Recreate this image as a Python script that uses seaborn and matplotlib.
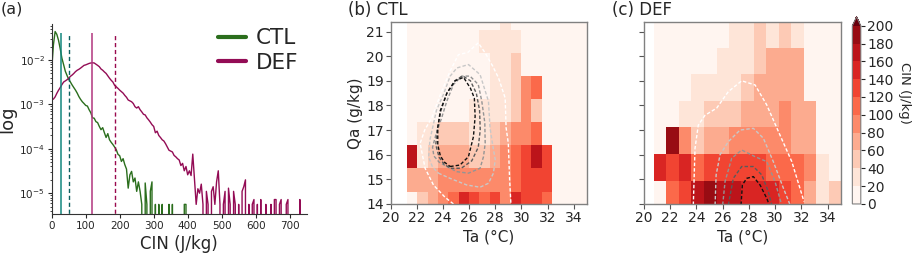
import numpy as np
import pandas as pd
import matplotlib
matplotlib.use("Agg")
import matplotlib.pyplot as plt
from matplotlib.colors import ListedColormap
from matplotlib.lines import Line2D
import seaborn as sns

sns.set_style("ticks")
plt.rcParams['font.family'] = ['DejaVu Sans']

# ---------------- Panel (a): CIN PDFs ----------------
cin_step = 5
ctl_pdf = [
    6.3e-3, 2.2e-2, 4.4e-2, 3.8e-2, 2.8e-2, 1.8e-2, 1.1e-2, 7.9e-3, 5.6e-3, 4.5e-3,
    3.7e-3, 3.2e-3, 2.75e-3, 2.4e-3, 2.1e-3, 1.8e-3, 1.5e-3, 1.3e-3, 1.15e-3, 1.05e-3,
    9.5e-4, 9.2e-4, 7.6e-4, 6.5e-4, 5.0e-4, 4.9e-4, 4.1e-4, 3.9e-4, 3.2e-4, 2.7e-4,
    3.0e-4, 2.3e-4, 1.8e-4, 2.2e-4, 1.6e-4, 1.4e-4, 1.25e-4, 1.1e-4, 9.5e-5, 7.5e-5,
    7.0e-5, 5.2e-5, 6.0e-5, 4.4e-5, 3.5e-5, 1.3e-5, 2.6e-5, 3.1e-5, 1.8e-5, 2.2e-5,
    1.1e-5, 1.8e-5, 1.1e-5, 5.6e-6, 0, 1.7e-5, 5.6e-6, 0, 1.1e-5, 1.8e-5,
    0, 5.6e-6, 0, 5.6e-6, 0, 5.6e-6, 0, 0, 0, 5.6e-6,
    0, 5.6e-6, 0, 0, 0, 0, 0, 0, 5.6e-6, 5.6e-6,
    0,
]
def_pdf = [
    1.29e-3, 1.32e-3, 1.48e-3, 1.78e-3, 2.09e-3, 2.4e-3, 2.8e-3, 3.2e-3, 3.4e-3, 3.6e-3,
    3.9e-3, 4.3e-3, 4.6e-3, 5.0e-3, 5.5e-3, 5.9e-3, 6.2e-3, 6.6e-3, 7.1e-3, 7.6e-3,
    7.8e-3, 8.1e-3, 8.4e-3, 8.6e-3, 8.7e-3, 8.6e-3, 8.1e-3, 7.6e-3, 7.1e-3, 6.3e-3,
    5.9e-3, 5.4e-3, 5.0e-3, 4.4e-3, 3.9e-3, 3.5e-3, 3.2e-3, 2.7e-3, 2.5e-3, 2.3e-3,
    2.1e-3, 1.95e-3, 1.8e-3, 1.6e-3, 1.45e-3, 1.26e-3, 1.2e-3, 1.15e-3, 1.05e-3, 8.9e-4,
    8.3e-4, 8.9e-4, 7.6e-4, 6.8e-4, 6.0e-4, 5.8e-4, 5.0e-4, 4.5e-4, 4.0e-4, 3.5e-4,
    3.2e-4, 2.3e-4, 2.5e-4, 2.0e-4, 1.8e-4, 1.6e-4, 1.5e-4, 1.3e-4, 1.1e-4, 9.3e-5,
    8.9e-5, 8.5e-5, 7.1e-5, 6.6e-5, 6.0e-5, 5.6e-5, 4.2e-5, 4.7e-5, 3.2e-5, 4.0e-5,
    2.6e-5, 3.2e-5, 2.5e-5, 7.6e-5, 2.0e-5, 5.6e-6, 1.26e-5, 1.0e-5, 1.6e-5, 5.6e-6,
    0, 1.1e-5, 5.6e-6, 0, 1.1e-5, 1.4e-5, 5.6e-6, 1.8e-5, 3.2e-5, 5.6e-6,
    0, 5.6e-6, 1.1e-5, 0, 1.3e-5, 5.6e-6, 0, 1.1e-5, 5.6e-6, 0,
    5.6e-6, 0, 1.1e-5, 1.4e-5, 2.0e-5, 0, 5.6e-6, 0, 5.6e-6, 7.2e-6,
    0, 5.6e-6, 0, 7.2e-6, 0, 0, 5.6e-6, 0, 0, 5.6e-6,
    0, 7.2e-6, 7.2e-6, 0, 5.6e-6, 7.2e-6, 0, 0, 5.6e-6, 7.2e-6,
    0, 0, 0, 0, 0, 0, 7.2e-6, 0,
]
ctl_cin = np.arange(len(ctl_pdf)) * cin_step
def_cin = np.arange(len(def_pdf)) * cin_step

ctl_mean, ctl_dash = 28, 50
def_mean, def_dash = 119, 185

# ---------------- Panels (b), (c): CIN binned by Ta / Qa ----------------
ctl_ta_edges = [21.23, 22.02, 22.82, 23.61, 24.41, 25.20, 26.00, 26.79, 27.58, 28.38,
                29.17, 29.97, 30.76, 31.56, 32.35, 33.14, 33.94, 34.73, 35.53]
ctl_qa_edges = [13.56, 14.50, 15.44, 16.38, 17.32, 18.26, 19.20, 20.14, 21.08, 22.02]
ctl_cin_grid = [  # rows: Qa bins (bottom -> top), cols: Ta bins
    [8, 50, 70, 90, 110, 145, 125, 118, 130, 90, 145, 130, 130, 118, 5, 5, 5, 5],
    [70, 70, 70, 90, 90, 90, 90, 90, 90, 90, 118, 135, 135, 128, 5, 5, 5, 5],
    [170, 30, 42, 70, 70, 70, 58, 58, 70, 80, 105, 130, 170, 135, 5, 5, 5, 5],
    [8, 28, 30, 45, 45, 45, 38, 35, 48, 62, 82, 92, 115, 5, 5, 5, 5, 5],
    [5, 10, 10, 12, 18, 18, 22, 22, 28, 38, 58, 88, 58, 5, 5, 5, 5, 5],
    [5, 5, 5, 5, 5, 12, 18, 18, 25, 30, 58, 88, 115, 5, 5, 5, 5, 5],
    [5, 5, 5, 5, 5, 5, 12, 18, 22, 25, 55, 5, 5, 5, 5, 5, 5, 5],
    [5, 5, 5, 5, 5, 5, 15, 20, 25, 25, 30, 5, 5, 5, 5, 5, 5, 5],
    [5, 5, 5, 5, 5, 5, 5, 5, 15, 22, 5, 5, 5, 5, 5, 5, 5, 5],
]

def_ta_edges = [20.76, 21.71, 22.67, 23.62, 24.57, 25.53, 26.48, 27.43, 28.38, 29.34,
                30.29, 31.24, 32.20, 33.15, 34.10, 35.06]
def_qa_edges = [13.87, 14.95, 16.03, 17.11, 18.19, 19.27, 20.35, 21.43]
def_cin_grid = [
    [5, 115, 130, 165, 188, 170, 165, 150, 150, 145, 130, 110, 65, 25, 42],
    [145, 125, 155, 115, 130, 120, 125, 125, 120, 115, 115, 105, 90, 22, 10],
    [5, 188, 82, 58, 65, 70, 80, 85, 90, 90, 90, 70, 70, 10, 10],
    [5, 8, 30, 30, 45, 48, 55, 65, 68, 70, 88, 75, 65, 8, 8],
    [5, 5, 5, 25, 30, 35, 30, 40, 65, 65, 78, 70, 8, 5, 5],
    [5, 5, 5, 5, 5, 25, 30, 25, 50, 65, 70, 65, 8, 5, 5],
    [5, 5, 5, 5, 5, 15, 20, 25, 40, 35, 40, 30, 5, 5, 5],
]

# density contours (Ta, Qa) traced per level, outer -> inner
ctl_contours = [
    ([24.8, 24.16, 23.27, 22.63, 22.25, 22.6, 23.14, 23.8, 24.55, 25.18, 25.9, 26.7,
      27.23, 27.8, 28.25, 28.76, 28.83, 29.0, 29.1, 29.2],
     [14.0, 14.27, 14.77, 15.45, 16.46, 17.0, 17.5, 18.44, 19.4, 20.06, 20.15, 20.54,
      20.13, 19.6, 19.12, 18.3, 17.1, 16.46, 15.0, 14.0]),
    ([23.65, 24.54, 25.82, 26.84, 27.48, 27.86, 28.0, 27.8, 27.6, 27.48, 26.84, 25.95,
      25.06, 24.55, 24.03, 23.5, 23.0, 22.9, 23.2, 23.65],
     [15.25, 15.04, 14.77, 14.68, 14.84, 15.25, 15.8, 16.4, 17.09, 18.17, 19.25, 19.66,
      19.52, 19.19, 18.44, 17.8, 16.6, 15.9, 15.5, 15.25]),
    ([24.29, 25.06, 25.95, 26.84, 27.1, 27.23, 27.2, 26.97, 26.7, 26.07, 25.44, 24.8,
      24.29, 23.9, 23.45, 23.2, 23.3, 23.7, 24.29],
     [15.52, 15.31, 15.25, 15.45, 15.92, 16.46, 17.3, 18.17, 18.85, 19.19, 19.19, 18.85,
      18.17, 17.5, 16.8, 16.3, 15.95, 15.7, 15.52]),
    ([24.6, 25.4, 26.2, 26.7, 26.85, 26.8, 26.55, 26.1, 25.5, 24.9, 24.3, 23.85, 23.55,
      23.45, 23.7, 24.1, 24.6],
     [15.45, 15.45, 15.75, 16.3, 17.0, 17.8, 18.5, 19.0, 19.2, 19.0, 18.5, 17.8, 17.0,
      16.4, 15.9, 15.6, 15.45]),
    ([24.55, 25.3, 25.95, 26.33, 26.46, 26.4, 26.1, 25.57, 24.93, 24.3, 23.8, 23.6, 23.6,
      23.8, 24.1, 24.55],
     [15.52, 15.58, 15.92, 16.73, 17.55, 18.3, 18.7, 19.14, 19.0, 18.5, 17.8, 17.1, 16.4,
      15.95, 15.7, 15.52]),
]
def_contours = [
    ([23.76, 23.89, 24.14, 24.65, 25.54, 26.43, 27.45, 28.47, 29.36, 30.25, 31.27, 32.2],
     [13.96, 16.26, 17.2, 17.6, 17.89, 18.56, 19.0, 18.83, 18.02, 16.94, 15.72, 14.1]),
    ([25.42, 25.5, 25.8, 26.43, 27.32, 28.34, 29.1, 29.86, 30.63, 31.14],
     [13.96, 15.18, 16.0, 16.53, 17.0, 17.07, 16.67, 15.72, 14.64, 13.96]),
    ([26.0, 26.18, 26.69, 27.45, 28.47, 29.36, 29.99, 30.5],
     [13.96, 14.91, 15.86, 16.19, 15.92, 15.72, 14.91, 13.96]),
    ([26.43, 26.81, 27.45, 28.34, 28.98, 29.48, 29.74],
     [13.96, 15.04, 15.52, 15.52, 15.18, 14.5, 13.96]),
    ([27.4, 27.5, 27.83, 28.34, 28.85, 29.36, 29.55],
     [13.96, 14.77, 15.04, 15.11, 14.77, 14.23, 13.96]),
]
contour_colors = ['#ffffff', '#c8c8c8', '#949494', '#5a5a5a', '#111111']

# ---------------- styling ----------------
CTL_COLOR = '#2b6e1d'
DEF_COLOR = '#930c55'
reds = plt.get_cmap('Reds')(np.linspace(0, 1, 11))
cin_cmap = ListedColormap(reds[:10]).with_extremes(over=reds[10])
SPINE = '#808080'

fig = plt.figure(figsize=(9.17, 2.54), dpi=100)
ax_a = fig.add_axes([0.0564, 0.1575, 0.278, 0.748])
ax_b = fig.add_axes([0.4261, 0.197, 0.2137, 0.7177])
ax_c = fig.add_axes([0.7023, 0.197, 0.2145, 0.7177])
cax = fig.add_axes([0.9295, 0.197, 0.0092, 0.737])

# ---- (a)
sns.lineplot(x=ctl_cin, y=ctl_pdf, ax=ax_a, color=CTL_COLOR, lw=1.0,
             estimator=None, sort=False, legend=False)
sns.lineplot(x=def_cin, y=def_pdf, ax=ax_a, color=DEF_COLOR, lw=1.0,
             estimator=None, sort=False, legend=False)
ax_a.set_yscale('log')
ax_a.set_ylim(3.4e-6, 0.065)
ax_a.set_xlim(0, 750)
vtop = 0.04
ax_a.vlines([ctl_mean], 1e-7, vtop, color='#14877f', lw=1.1)
ax_a.vlines([ctl_dash], 1e-7, vtop, color='#0c5f5f', lw=1.0, linestyles=(0, (3, 2)))
ax_a.vlines([def_mean], 1e-7, vtop, color='#b2367f', lw=1.1)
ax_a.vlines([def_dash], 1e-7, vtop, color='#990a4e', lw=1.0, linestyles=(0, (3, 2)))
ax_a.set_xticks(range(0, 701, 100))
ax_a.tick_params(labelsize=7.5, length=3, pad=2)
ax_a.tick_params(which='minor', length=1.5)
ax_a.set_xlabel('CIN (J/kg)', fontsize=12, labelpad=3)
ax_a.set_ylabel('log', fontsize=13, labelpad=2)
sns.despine(ax=ax_a)
for s in ax_a.spines.values():
    s.set_color('#333333')
    s.set_linewidth(0.8)
handles = [Line2D([], [], color=CTL_COLOR, lw=3, label='CTL'),
           Line2D([], [], color=DEF_COLOR, lw=3, label='DEF')]
ax_a.legend(handles=handles, loc='upper right', bbox_to_anchor=(0.985, 1.0),
            frameon=False, fontsize=15.5, handlelength=1.3, handletextpad=0.45,
            labelspacing=0.2, borderaxespad=0, borderpad=0.2)


def grid_frame(ta_edges, qa_edges, grid):
    ta_edges = np.asarray(ta_edges)
    qa_edges = np.asarray(qa_edges)
    tc = (ta_edges[:-1] + ta_edges[1:]) / 2
    qc = (qa_edges[:-1] + qa_edges[1:]) / 2
    rows = []
    for j, row in enumerate(grid):
        for i, v in enumerate(row):
            rows.append((tc[i], qc[j], v))
    return pd.DataFrame(rows, columns=['Ta', 'Qa', 'CIN'])


panels = [
    (ax_b, ctl_ta_edges, ctl_qa_edges, ctl_cin_grid, ctl_contours, False),
    (ax_c, def_ta_edges, def_qa_edges, def_cin_grid, def_contours, True),
]
for ax, te, qe, grid, conts, with_cbar in panels:
    df = grid_frame(te, qe, grid)
    kws = dict(data=df, x='Ta', y='Qa', weights='CIN', bins=[te, qe],
               cmap=cin_cmap, vmin=0, vmax=200, thresh=None, ax=ax)
    if with_cbar:
        kws.update(cbar=True, cbar_ax=cax,
                   cbar_kws=dict(extend='max', ticks=list(range(0, 201, 20))))
    sns.histplot(**kws)
    for (tx, qy), c in zip(conts, contour_colors):
        ax.plot(tx, qy, color=c, lw=1.0, ls=(0, (2.5, 1.5)))
    ax.set_xlim(20, 35)
    ax.set_ylim(14, 21.4)
    ax.set_xticks(range(20, 35, 2))
    ax.set_yticks(range(14, 22))
    ax.tick_params(labelsize=10, length=3.5, pad=1.5, color='#555555')
    ax.set_xlabel('Ta (°C)', fontsize=11, labelpad=3)
    for s in ax.spines.values():
        s.set_color(SPINE)
        s.set_linewidth(1.0)

ax_b.set_ylabel('Qa (g/kg)', fontsize=11, labelpad=2)
ax_c.set_ylabel('')
ax_c.set_yticklabels([])

cax.tick_params(labelsize=10, length=3, pad=1.5)
cax.set_ylabel('CIN (J/kg)', fontsize=9.5, rotation=270, va='center', ha='center')
cax.yaxis.set_label_coords(6.2, 0.62)
for s in cax.spines.values():
    s.set_color(SPINE)

fig.text(0.001, 0.945, '(a)', fontsize=11.5, va='baseline')
fig.text(0.379, 0.941, '(b) CTL', fontsize=12, va='baseline')
fig.text(0.667, 0.941, '(c) DEF', fontsize=12, va='baseline')

fig.savefig('out.png', dpi=100)
